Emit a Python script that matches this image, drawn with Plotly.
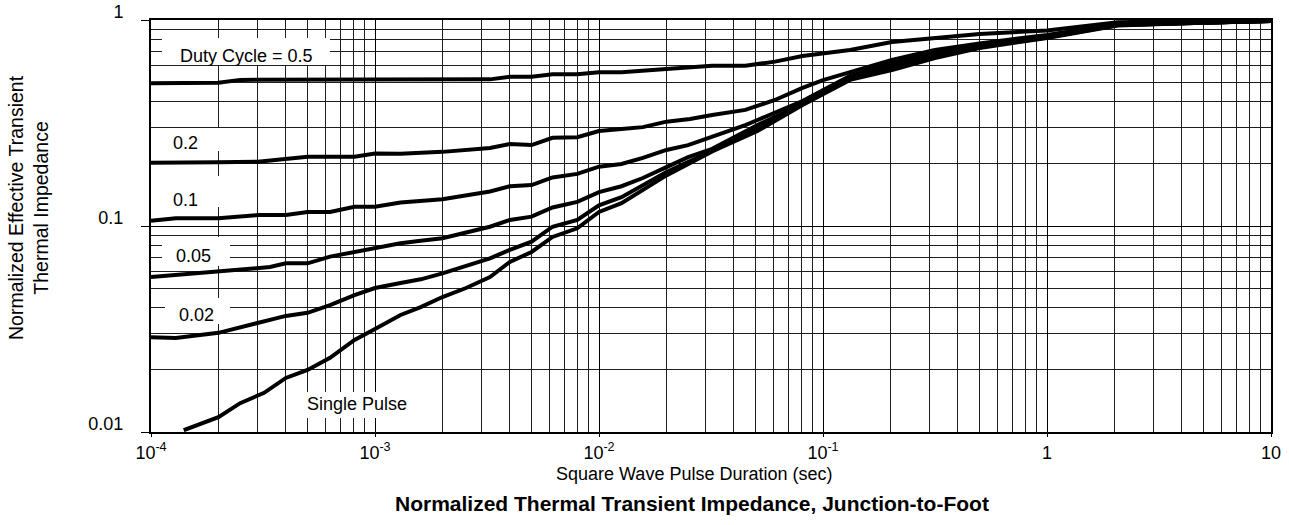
import plotly.graph_objects as go

# ---------------- data ----------------
dc05_x = [1e-4, 1.29e-4, 2e-4, 2.5e-4, 1e-3, 1.3e-3, 3.26e-3, 4e-3, 5e-3, 6.2e-3, 8e-3, 1e-2, 1.26e-2,
          2e-2, 3.2e-2, 4.5e-2, 6.1e-2, 8.1e-2, 0.132, 0.203, 0.5, 1.0, 2.07, 5.3, 10]
dc05_y = [0.493, 0.496, 0.496, 0.512, 0.512, 0.515, 0.515, 0.531, 0.531, 0.545, 0.545, 0.557, 0.557,
          0.578, 0.600, 0.600, 0.628, 0.669, 0.715, 0.782, 0.855, 0.890, 0.975, 0.994, 1.01]

dc02_x = [1e-4, 1.29e-4, 2e-4, 3e-4, 4e-4, 5e-4, 8.1e-4, 1e-3, 1.3e-3, 2e-3, 3.26e-3, 4e-3, 5e-3,
          6.2e-3, 8e-3, 1e-2, 1.26e-2, 1.57e-2, 2e-2, 2.55e-2, 3.2e-2, 4.5e-2, 6.1e-2, 8.1e-2, 0.1,
          0.132, 0.203, 0.316, 0.5, 1.0, 2.07, 5.3, 10]
dc02_y = [0.203, 0.204, 0.204, 0.205, 0.213, 0.217, 0.217, 0.225, 0.224, 0.229, 0.239, 0.250, 0.247,
          0.268, 0.270, 0.289, 0.296, 0.302, 0.321, 0.331, 0.346, 0.366, 0.409, 0.468, 0.511,
          0.559, 0.640, 0.715, 0.769, 0.846, 0.956, 0.972, 0.989]

dc01_x = [1e-4, 1.29e-4, 2e-4, 3e-4, 4e-4, 5e-4, 6.3e-4, 8.1e-4, 1e-3, 1.3e-3, 2e-3, 3.26e-3, 4e-3,
          5e-3, 6.2e-3, 8e-3, 1e-2, 1.26e-2, 1.57e-2, 2e-2, 2.5e-2, 3.2e-2, 4.5e-2, 5.1e-2, 8.1e-2,
          0.132, 0.203, 0.316, 0.5, 1.0, 2.07, 5.3, 10]
dc01_y = [0.106, 0.109, 0.109, 0.113, 0.113, 0.117, 0.117, 0.124, 0.124, 0.130, 0.135, 0.147, 0.156,
          0.158, 0.172, 0.179, 0.194, 0.200, 0.214, 0.234, 0.247, 0.271, 0.309, 0.327, 0.404,
          0.535, 0.618, 0.699, 0.756, 0.836, 0.951, 0.972, 0.989]

dc005_x = [1e-4, 1.29e-4, 2e-4, 3e-4, 3.4e-4, 4e-4, 5e-4, 6.3e-4, 8.1e-4, 1e-3, 1.3e-3, 1.6e-3, 2e-3,
           3.26e-3, 4e-3, 5e-3, 6.2e-3, 8e-3, 1e-2, 1.26e-2, 1.57e-2, 2e-2, 2.5e-2, 3.2e-2, 5.1e-2,
           8.1e-2, 0.132, 0.203, 0.316, 0.5, 1.0, 2.07, 5.3, 10]
dc005_y = [0.0565, 0.0578, 0.0597, 0.0623, 0.0632, 0.0659, 0.0659, 0.071, 0.075, 0.0779, 0.0824, 0.0849, 0.0872,
           0.0992, 0.107, 0.111, 0.123, 0.131, 0.146, 0.156, 0.171, 0.193, 0.216, 0.237, 0.309,
           0.391, 0.529, 0.605, 0.684, 0.748, 0.827, 0.946, 0.972, 0.989]

dc002_x = [1e-4, 1.29e-4, 2e-4, 3e-4, 4e-4, 5e-4, 6.3e-4, 8.1e-4, 1e-3, 1.3e-3, 1.6e-3, 2e-3, 3.26e-3,
           4e-3, 5e-3, 6.2e-3, 8e-3, 1e-2, 1.26e-2, 2e-2, 3.2e-2, 5.1e-2, 8.1e-2, 0.132, 0.203, 0.316,
           0.5, 1.0, 2.07, 5.3, 10]
dc002_y = [0.0288, 0.0286, 0.0303, 0.0337, 0.0366, 0.0379, 0.0413, 0.0462, 0.0500, 0.0529, 0.0551, 0.0589, 0.0697,
           0.0765, 0.0839, 0.0992, 0.107, 0.126, 0.138, 0.183, 0.232, 0.299, 0.389, 0.523, 0.591, 0.669,
           0.740, 0.822, 0.946, 0.972, 0.989]

single_x = [1.4e-4, 2e-4, 2.5e-4, 3.2e-4, 4e-4, 5e-4, 6.3e-4, 8.1e-4, 1e-3, 1.3e-3, 1.6e-3, 2e-3, 2.55e-3,
            3.26e-3, 4e-3, 5e-3, 6.2e-3, 8e-3, 1e-2, 1.26e-2, 2e-2, 3.2e-2, 5.1e-2, 8.1e-2, 0.132, 0.203,
            0.316, 0.5, 1.0, 2.07, 5.3, 10]
single_y = [0.0102, 0.0118, 0.0138, 0.0155, 0.0183, 0.0200, 0.0229, 0.0280, 0.0316, 0.0370, 0.0404, 0.0452, 0.0500,
            0.0565, 0.0669, 0.0748, 0.0885, 0.0975, 0.117, 0.129, 0.176, 0.230, 0.289, 0.387, 0.512, 0.572,
            0.654, 0.731, 0.818, 0.940, 0.972, 0.989]

series = [
    ("Duty Cycle = 0.5", dc05_x, dc05_y),
    ("0.2", dc02_x, dc02_y),
    ("0.1", dc01_x, dc01_y),
    ("0.05", dc005_x, dc005_y),
    ("0.02", dc002_x, dc002_y),
    ("Single Pulse", single_x, single_y),
]

x_tick_vals = [1e-4, 1e-3, 1e-2, 1e-1, 1, 10]
x_tick_text = ["10<sup>-4</sup>", "10<sup>-3</sup>", "10<sup>-2</sup>", "10<sup>-1</sup>", "1", "10"]
y_tick_vals = [0.01, 0.1, 1]
y_tick_text = ["0.01", "0.1", "1"]

x_title = "Square Wave Pulse Duration (sec)"
y_title = "Normalized Effective Transient<br>Thermal Impedance"
chart_title = "<b>Normalized Thermal Transient Impedance, Junction-to-Foot</b>"

# ---------------- layout geometry ----------------
W, H = 1289, 525
L, R, T, B = 151, 18, 20, 93
PW, PH = W - L - R, H - T - B


def px_x(p):
    return (p - L) / PW


def px_y(p):
    return (T + PH - p) / PH


FONT = "Liberation Sans, Arial, Helvetica, sans-serif"

fig = go.Figure()
for name, xs, ys in series:
    fig.add_trace(go.Scatter(x=xs, y=ys, mode="lines", name=name,
                             line=dict(color="black", width=4), hoverinfo="skip"))

# label boxes (white) and label text: (text, text center px, box px)
labels = [
    ("Duty Cycle = 0.5", (246, 56), (162, 38, 330, 65)),
    ("0.2", (185, 143), (160, 128, 226, 151)),
    ("0.1", (185, 200), (160, 176, 226, 207)),
    ("0.05", (193, 256), (162, 237, 230, 266)),
    ("0.02", (196, 315), (165, 298, 230, 324)),
    ("Single Pulse", (357, 404), (300, 392, 415, 418)),
]
for text, (cx, cy), (bx0, by0, bx1, by1) in labels:
    fig.add_shape(type="rect", xref="paper", yref="paper",
                  x0=px_x(bx0), x1=px_x(bx1), y0=px_y(by1), y1=px_y(by0),
                  fillcolor="white", line=dict(width=0), layer="above")
    fig.add_annotation(text=text, xref="paper", yref="paper", x=px_x(cx), y=px_y(cy),
                       xanchor="center", yanchor="middle", showarrow=False,
                       font=dict(family=FONT, size=18, color="black"))

# axis titles and chart title
fig.add_annotation(text=y_title, xref="paper", yref="paper", x=px_x(28), y=px_y(208),
                   xanchor="center", yanchor="middle", textangle=-90, showarrow=False,
                   font=dict(family=FONT, size=19.5, color="black"))
fig.add_annotation(text=x_title, xref="paper", yref="paper", x=px_x(694), y=px_y(474),
                   xanchor="center", yanchor="middle", showarrow=False,
                   font=dict(family=FONT, size=18, color="black"))
fig.add_annotation(text=chart_title, xref="paper", yref="paper", x=px_x(692), y=px_y(503),
                   xanchor="center", yanchor="middle", showarrow=False,
                   font=dict(family=FONT, size=21, color="black"))

axis_common = dict(
    type="log", showline=True, mirror=True, linecolor="black", linewidth=2,
    showgrid=True, gridcolor="black", gridwidth=1, zeroline=False,
    ticks="outside", tickcolor="black", tickwidth=1, automargin=False,
    tickfont=dict(family=FONT, size=18, color="black"),
)

fig.update_xaxes(range=[-4, 1], tickmode="array", tickvals=x_tick_vals, ticktext=x_tick_text,
                 ticklen=3,
                 minor=dict(dtick="D1", showgrid=True, gridcolor="#1e1e1e", gridwidth=1, ticks=""),
                 **axis_common)
fig.update_yaxes(range=[-2, 0], tickmode="array", tickvals=y_tick_vals, ticktext=y_tick_text,
                 ticklen=8, ticklabelstandoff=14, ticklabelshift=-8,
                 minor=dict(dtick="D1", showgrid=True, gridcolor="#1e1e1e", gridwidth=1, ticks=""),
                 **axis_common)

fig.update_layout(width=W, height=H, margin=dict(l=L, r=R, t=T, b=B, pad=0),
                  plot_bgcolor="white", paper_bgcolor="white", showlegend=False,
                  font=dict(family=FONT, size=18, color="black"))

fig.write_html("out.html")
